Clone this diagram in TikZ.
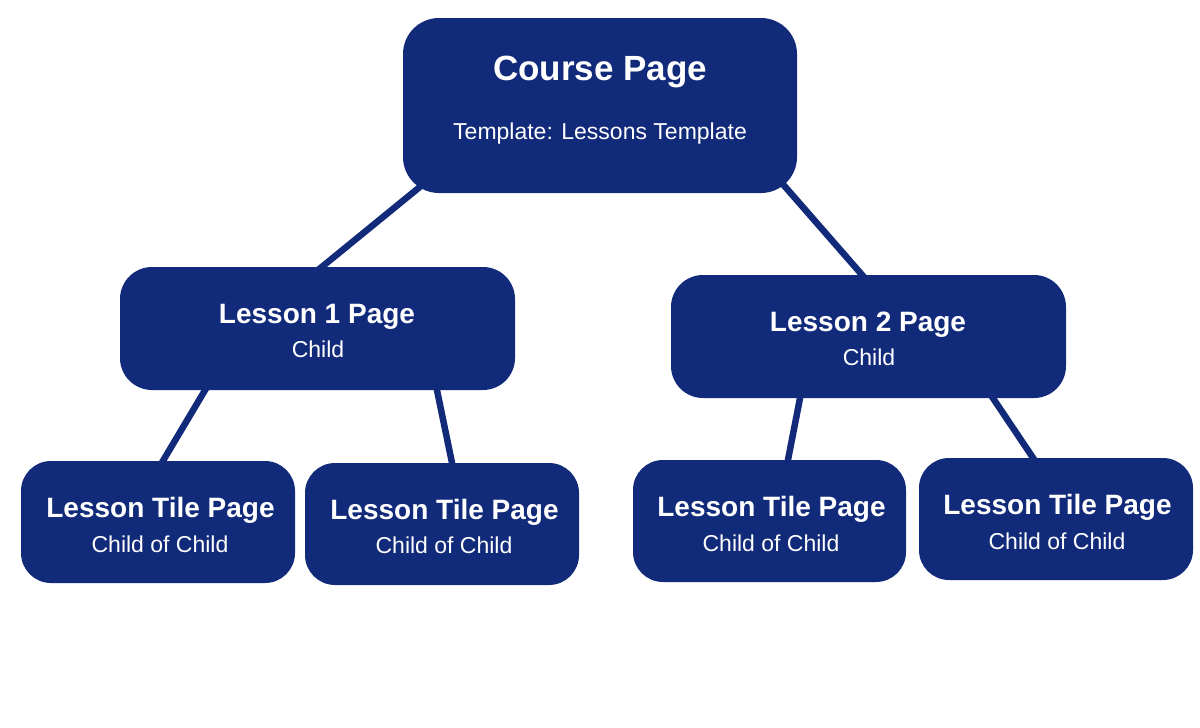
\documentclass[tikz,border=0pt]{standalone}
\usepackage{fontspec}
\setmainfont{Liberation Sans}
\usetikzlibrary{calc,backgrounds}
\definecolor{navy}{RGB}{18,42,122}
\tikzset{
  box/.style={draw=none, fill=navy, rectangle, rounded corners=#1, inner sep=0pt},
  box/.default=32pt,
  link/.style={draw=navy, line width=6.5pt, shorten <=-8pt, shorten >=-8pt},
  title/.style={text=white, anchor=base, inner sep=0pt, font=\fontsize{35}{42}\selectfont\bfseries},
  head/.style={text=white, anchor=base, inner sep=0pt, font=\fontsize{28}{34}\selectfont\bfseries},
  sub/.style={text=white, anchor=base, inner sep=0pt, font=\fontsize{23}{28}\selectfont},
}
\begin{document}
\begin{tikzpicture}[x=1pt,y=-1pt]
\useasboundingbox (0,0) rectangle (1200,728);
% boxes
\node[box=36pt, minimum width=394pt, minimum height=175pt] (course) at (600,105.5) {};
\node[box, minimum width=395pt, minimum height=123pt] (l1) at (317.5,328.5) {};
\node[box, minimum width=395pt, minimum height=123pt] (l2) at (868.5,336.5) {};
\node[box=30pt, minimum width=274pt, minimum height=122pt] (t1) at (158,522) {};
\node[box=30pt, minimum width=274pt, minimum height=122pt] (t2) at (442,524) {};
\node[box=30pt, minimum width=273pt, minimum height=122pt] (t3) at (769.5,521) {};
\node[box=30pt, minimum width=274pt, minimum height=122pt] (t4) at (1056,519) {};
% connectors
\begin{scope}[on background layer]
\draw[link] ($(course.south)+(-178,-8)$) -- ($(l1.north)+(4.5,0)$);
\draw[link] ($(course.south)+(182,-10)$) -- ($(l2.north)+(-6.5,0)$);
\draw[link] ($(l1.south)+(-112.5,0)$) -- ($(t1.north)+(5,0)$);
\draw[link] ($(l1.south)+(119.5,0)$) -- ($(t2.north)+(10,0)$);
\draw[link] ($(l2.south)+(-68.5,0)$) -- ($(t3.north)+(18.5,0)$);
\draw[link] ($(l2.south)+(124.5,0)$) -- ($(t4.north)+(-23,0)$);
\end{scope}
% texts
\node[title] (courseT) at (600,80) {Course Page};
\node[sub] (courseS) at (600,139) {Template: Lessons Template};
\node[head] (l1T) at (317,323) {Lesson 1 Page};
\node[sub] (l1S) at (318,357) {Child};
\node[head] (l2T) at (868,331) {Lesson 2 Page};
\node[sub] (l2S) at (869,365) {Child};
\node[head] (t1T) at (160.5,517) {Lesson Tile Page};
\node[sub] (t1S) at (160,552) {Child of Child};
\node[head] (t2T) at (444.5,519) {Lesson Tile Page};
\node[sub] (t2S) at (444,553) {Child of Child};
\node[head] (t3T) at (771.5,516) {Lesson Tile Page};
\node[sub] (t3S) at (771,551) {Child of Child};
\node[head] (t4T) at (1057.5,514) {Lesson Tile Page};
\node[sub] (t4S) at (1057,549) {Child of Child};
\end{tikzpicture}
\end{document}
